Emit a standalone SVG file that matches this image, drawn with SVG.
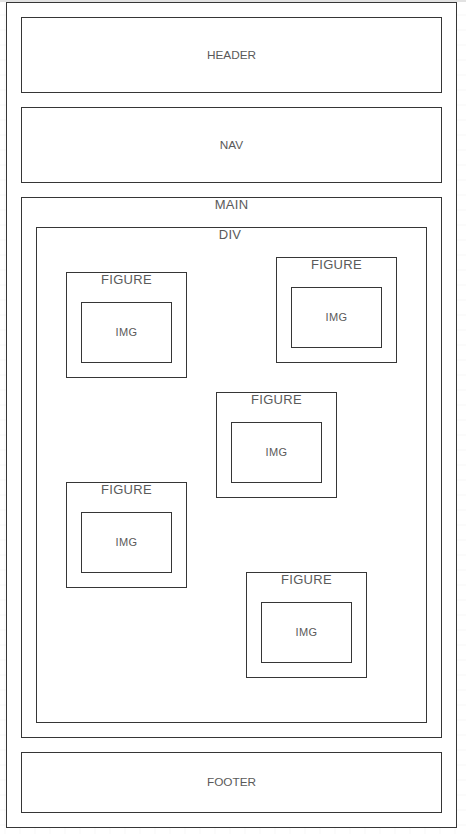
<svg xmlns="http://www.w3.org/2000/svg" width="466" height="834" viewBox="0 0 466 834">
<defs>
<pattern id="grid" x="5.5" y="0.5" width="15" height="15" patternUnits="userSpaceOnUse">
<path d="M15 0 V15 M0 15 H15" fill="none" stroke="#ececec" stroke-width="1"/>
</pattern>
<style>
.box{fill:#ffffff;stroke:#363636;stroke-width:1}
.lbl{font-family:"Liberation Sans",Arial,sans-serif;fill:#5a5a5a;text-anchor:middle}
.s11{font-size:11px;letter-spacing:0.4px}
.s12{font-size:11.8px}
.s13{font-size:13px;letter-spacing:0.3px}
</style>
</defs>
<rect x="0" y="0" width="466" height="834" fill="#ffffff"/>
<rect x="0" y="0" width="466" height="834" fill="url(#grid)"/>
<rect x="0" y="0" width="466" height="2" fill="#e2e2e2"/>
<g id="page"><rect class="box" x="6.5" y="2.5" width="450" height="825"/></g>
<g id="header"><rect class="box" x="21.5" y="17.5" width="420" height="75"/><text class="lbl s12" x="231.5" y="59.3">HEADER</text></g>
<g id="nav"><rect class="box" x="21.5" y="107.5" width="420" height="75"/><text class="lbl s12" x="231.5" y="149.3">NAV</text></g>
<g id="main"><rect class="box" x="21.5" y="197.5" width="420" height="540"/><text class="lbl s13" x="231.5" y="208.5">MAIN</text></g>
<g id="div"><rect class="box" x="36.5" y="227.5" width="390" height="495"/><text class="lbl s13" x="230" y="238.5">DIV</text></g>
<g id="figure1"><rect class="box" x="66.5" y="272.5" width="120" height="105"/><text class="lbl s13" x="126.5" y="284.3">FIGURE</text>
<g id="img1"><rect class="box" x="81.5" y="302.5" width="90" height="60"/><text class="lbl s11" x="126.5" y="336">IMG</text></g></g>
<g id="figure2"><rect class="box" x="276.5" y="257.5" width="120" height="105"/><text class="lbl s13" x="336.5" y="269.3">FIGURE</text>
<g id="img2"><rect class="box" x="291.5" y="287.5" width="90" height="60"/><text class="lbl s11" x="336.5" y="321">IMG</text></g></g>
<g id="figure3"><rect class="box" x="216.5" y="392.5" width="120" height="105"/><text class="lbl s13" x="276.5" y="404.3">FIGURE</text>
<g id="img3"><rect class="box" x="231.5" y="422.5" width="90" height="60"/><text class="lbl s11" x="276.5" y="456">IMG</text></g></g>
<g id="figure4"><rect class="box" x="66.5" y="482.5" width="120" height="105"/><text class="lbl s13" x="126.5" y="494.3">FIGURE</text>
<g id="img4"><rect class="box" x="81.5" y="512.5" width="90" height="60"/><text class="lbl s11" x="126.5" y="546">IMG</text></g></g>
<g id="figure5"><rect class="box" x="246.5" y="572.5" width="120" height="105"/><text class="lbl s13" x="306.5" y="584.3">FIGURE</text>
<g id="img5"><rect class="box" x="261.5" y="602.5" width="90" height="60"/><text class="lbl s11" x="306.5" y="636">IMG</text></g></g>
<g id="footer"><rect class="box" x="21.5" y="752.5" width="420" height="60"/><text class="lbl s12" x="231.5" y="786.3">FOOTER</text></g>
<g id="connectors"></g>
</svg>
